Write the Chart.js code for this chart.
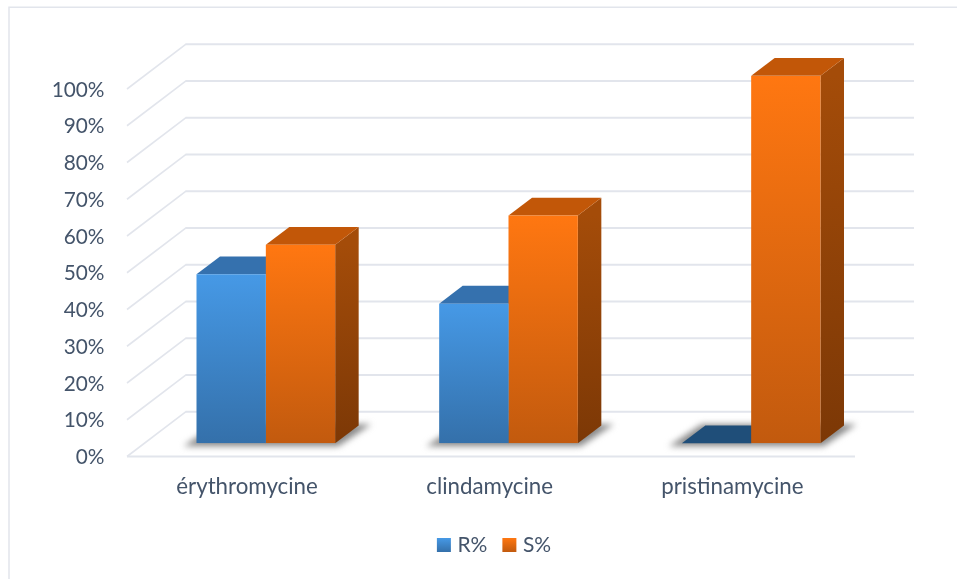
<!DOCTYPE html>
<html><head><meta charset="utf-8">
<style>html,body{margin:0;padding:0;background:#fff;overflow:hidden}canvas{display:block}</style>
<script src="https://cdn.jsdelivr.net/npm/chart.js@4/dist/chart.umd.min.js"></script>
</head><body><canvas id="c" width="957" height="579"></canvas>
<script>
const categories = ['érythromycine', 'clindamycine', 'pristinamycine'];
const seriesNames = ['R%', 'S%'];
const rValues = [46, 38, 0];
const sValues = [54, 62, 100];
const FONT = 'Lato';
const TEXT = '#44546a';
const GRID = '#e2e5ec';
const DEPTH = {x: 23.5, y: 17.8};
const palette = [
  {top:'#4699e6', bottom:'#3470aa', lid:'#3571ae', flat:'#1f4e79', sideTop:'#2f6699', sideBottom:'#234f7a'},
  {top:'#ff7711', bottom:'#c25a0e', lid:'#c25708', flat:'#c25708', sideTop:'#a44c09', sideBottom:'#7c3806'}
];
function fillFor(ctx, p){
  const chart = ctx.chart;
  if (ctx.type !== 'data' || !chart.scales.y) return p.top;
  const ys = chart.scales.y;
  const g = chart.ctx.createLinearGradient(0, ys.getPixelForValue(ctx.parsed.y), 0, ys.getPixelForValue(0));
  g.addColorStop(0, p.top); g.addColorStop(1, p.bottom);
  return g;
}
function poly(c, pts, fill){
  c.beginPath();
  pts.forEach((p,i)=> i ? c.lineTo(p[0],p[1]) : c.moveTo(p[0],p[1]));
  c.closePath(); c.fillStyle = fill; c.fill();
}
const scene3d = {
  id:'scene3d',
  afterLayout(chart){
    // let the y tick labels extend past the narrow axis box without being clipped
    chart.scales.y.left = 0;
  },
  beforeDatasetsDraw(chart){
    const c = chart.ctx, ys = chart.scales.y, a = chart.chartArea;
    c.save();
    // outer frame
    c.strokeStyle = GRID; c.lineWidth = 1.5;
    c.beginPath(); c.moveTo(9,579); c.lineTo(9,7.3); c.lineTo(957,7.3); c.stroke();
    // perspective grid
    const fx = a.left - 17.5, bx = fx + 59, brx = a.right + 41.5, frx = a.right - 17.5;
    ys.ticks.forEach(t=>{
      const y = ys.getPixelForValue(t.value), fy = y + 13.2, by = y - 31.6;
      c.strokeStyle = GRID; c.lineWidth = 1.6;
      c.beginPath(); c.moveTo(fx,fy); c.lineTo(bx,by); c.stroke();
      c.lineWidth = 2;
      c.beginPath(); c.moveTo(bx-0.5,by); c.lineTo(brx,by); c.stroke();
      if (t.value === 0){ c.beginPath(); c.moveTo(fx,fy); c.lineTo(frx,fy); c.stroke(); }
    });
    // floor shadows
    const m0 = chart.getDatasetMeta(0), m1 = chart.getDatasetMeta(1);
    m0.data.forEach((b,i)=>{
      const x0 = b.x - b.width/2, x1 = m1.data[i].x + m1.data[i].width/2, base = ys.getPixelForValue(0);
      c.save(); c.filter = 'blur(3px)';
      poly(c, [[x0-13,base+3],[x1+3,base+3],[x1+36,base-19],[x0+20,base-19]], '#8a8a8a');
      c.restore();
    });
    // 3D faces
    [m0,m1].forEach((m,di)=>{
      const p = palette[di];
      m.data.forEach((b,i)=>{
        const x0 = b.x - b.width/2, x1 = b.x + b.width/2, top = b.y, base = b.base;
        const g = c.createLinearGradient(0, top, 0, base);
        g.addColorStop(0,p.sideTop); g.addColorStop(1,p.sideBottom);
        if (base - top > 0.5) poly(c, [[x1,top],[x1+DEPTH.x,top-DEPTH.y],[x1+DEPTH.x,base-DEPTH.y],[x1,base]], g);
        poly(c, [[x0,top],[x1,top],[x1+DEPTH.x,top-DEPTH.y],[x0+DEPTH.x,top-DEPTH.y]], base - top > 0.5 ? p.lid : p.flat);
      });
    });
    c.restore();
  }
};
function legendItems(chart){
  return chart.data.datasets.map((d,i)=>{
    const g = chart.ctx.createLinearGradient(0, 538, 0, 552);
    g.addColorStop(0, palette[i].top); g.addColorStop(1, palette[i].bottom);
    return {text:d.label, fillStyle:g, strokeStyle:g, lineWidth:8, fontColor:TEXT, datasetIndex:i, hidden:false};
  });
}
new Chart(document.getElementById('c'), {
  type:'bar',
  data:{labels:categories, datasets:[
    {label:seriesNames[0], data:rValues, backgroundColor:ctx=>fillFor(ctx,palette[0])},
    {label:seriesNames[1], data:sValues, backgroundColor:ctx=>fillFor(ctx,palette[1])}
  ]},
  plugins:[scene3d],
  options:{
    responsive:false, animation:false, devicePixelRatio:1,
    categoryPercentage:1/1.75, barPercentage:1,
    layout:{padding:{top:75.8,left:119.5,right:84.5,bottom:13.5}},
    plugins:{
      tooltip:{enabled:false},
      legend:{position:'bottom',labels:{boxWidth:6,boxHeight:6,padding:19,color:TEXT,font:{family:FONT,size:21},generateLabels:legendItems}}
    },
    scales:{
      x:{grid:{display:false,drawTicks:false},border:{display:false},
        afterFit(s){s.height=72.2;},
        ticks:{color:TEXT,font:{family:FONT,size:22.3},padding:30.5,labelOffset:-18.8,maxRotation:0}},
      y:{min:0,max:100,grid:{display:false,drawTicks:false},border:{display:false},
        afterFit(s){s.width=25;},
        ticks:{stepSize:10,color:TEXT,font:{family:FONT,size:20.8},padding:40,labelOffset:14,callback:v=>v+'%'}}
    }
  }
});
</script></body></html>
